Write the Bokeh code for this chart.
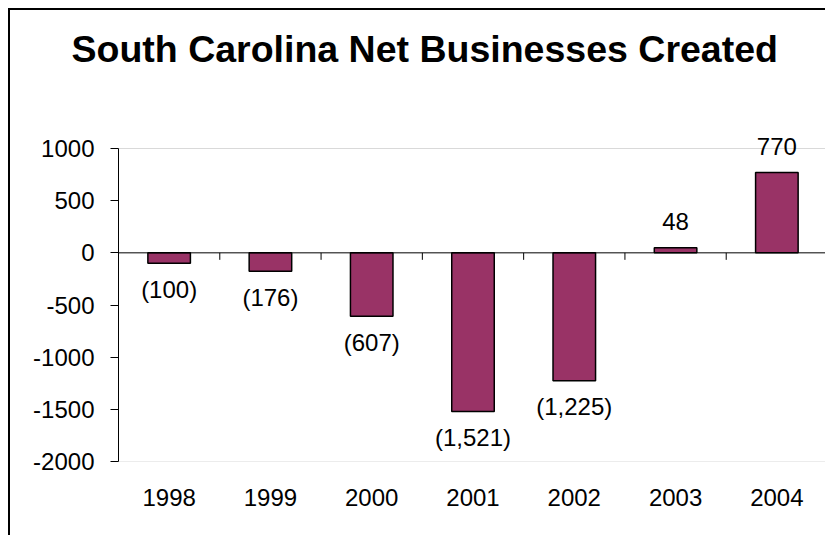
from bokeh.plotting import figure
from bokeh.models import (ColumnDataSource, FixedTicker, Span, LabelSet, Range1d,
                          BoxAnnotation, Title)
from bokeh.core.properties import value
from bokeh.embed import file_html
from bokeh.resources import INLINE

# ---- data ----
years = ["1998", "1999", "2000", "2001", "2002", "2003", "2004"]
net_businesses = [-100, -176, -607, -1521, -1225, 48, 770]
y_ticks = [-2000, -1500, -1000, -500, 0, 500, 1000]
y_tick_labels = ["-2000", "-1500", "-1000", "-500", "0", "500", "1000"]
title_text = "South Carolina Net Businesses Created"

FONT = "Liberation Sans"
BAR_COLOR = "#993366"
LABEL_PX = "24px"

pos = list(range(len(years)))
labels = [f"({abs(v):,})" if v < 0 else f"{v:,}" for v in net_businesses]
offsets = [-26 if v < 0 else 26 for v in net_businesses]

src = ColumnDataSource(dict(x=pos, top=net_businesses, label=labels, off=offsets))

W, H = 817, 527
MB_L, MB_R, MB_T, MB_B = 108, 0, 59, 76
EXTRA_PX = 79  # blank room inside the frame above the drawn plot area (title gap, label room)

data_px = H - MB_T - MB_B - EXTRA_PX
units_per_px = (y_ticks[-1] - y_ticks[0]) / data_px
y_end = y_ticks[-1] + EXTRA_PX * units_per_px
x_start, x_end = pos[0] - 0.5, pos[-1] + 0.5

p = figure(width=W, height=H, output_backend="svg", toolbar_location=None,
           x_range=Range1d(x_start, x_end),
           y_range=Range1d(y_ticks[0], y_end),
           min_border_left=MB_L, min_border_right=MB_R,
           min_border_top=MB_T, min_border_bottom=MB_B,
           title=None,
           styles={"border-left": "2px solid black", "border-top": "2px solid black",
                   "margin-left": "8px", "margin-top": "8px"})

p.background_fill_color = "white"
p.border_fill_color = "white"
p.outline_line_color = None
p.xgrid.visible = False
p.ygrid.visible = False

# plot-area border (gray)
p.add_layout(BoxAnnotation(left=x_start, right=x_end, bottom=y_ticks[0], top=y_ticks[-1],
                           fill_color=None, line_color="#808080", line_width=1,
                           level="underlay"))

# title
p.add_layout(Title(text=title_text, text_font=FONT, text_font_size="37.5px",
                   text_font_style="bold", text_color="black", align="left",
                   offset=-47, standoff=0, vertical_align="bottom"), "above")

# y axis
ya = p.left[0]
ya.ticker = FixedTicker(ticks=y_ticks)
ya.bounds = (y_ticks[0], y_ticks[-1])
ya.major_label_overrides = {t: l for t, l in zip(y_ticks, y_tick_labels)}
ya.major_tick_out = 8
ya.major_tick_in = 0
ya.minor_tick_line_color = None
ya.axis_line_color = "black"
ya.axis_line_width = 1
ya.major_tick_line_color = "black"
ya.major_label_text_font = FONT
ya.major_label_text_font_size = LABEL_PX
ya.major_label_text_color = "black"
ya.major_label_standoff = 16

# x axis (labels at bottom)
xa = p.below[0]
xa.ticker = FixedTicker(ticks=pos)
xa.major_label_overrides = {i: y for i, y in zip(pos, years)}
xa.axis_line_color = None
xa.major_tick_line_color = None
xa.minor_tick_line_color = None
xa.major_tick_out = 0
xa.major_tick_in = 0
xa.major_label_text_font = FONT
xa.major_label_text_font_size = LABEL_PX
xa.major_label_text_color = "black"
xa.major_label_standoff = 27

# zero line with category boundary ticks
p.add_layout(Span(location=0, dimension="width", line_color="black", line_width=1))
tick_len = 7 * units_per_px
bounds = [i - 0.5 for i in pos] + [pos[-1] + 0.5]
p.segment(x0=bounds, y0=[0] * len(bounds), x1=bounds, y1=[-tick_len] * len(bounds),
          line_color="black", line_width=1)

# bars
p.vbar(x="x", top="top", bottom=0, width=0.42, fill_color=BAR_COLOR,
       line_color="black", line_width=1.5, source=src)

# data labels
p.add_layout(LabelSet(x="x", y="top", text="label", y_offset="off", source=src,
                      text_align="center", text_baseline="middle",
                      text_font=value(FONT), text_font_size=LABEL_PX,
                      text_color="black"))

open("out.html", "w").write(file_html(p, INLINE))
